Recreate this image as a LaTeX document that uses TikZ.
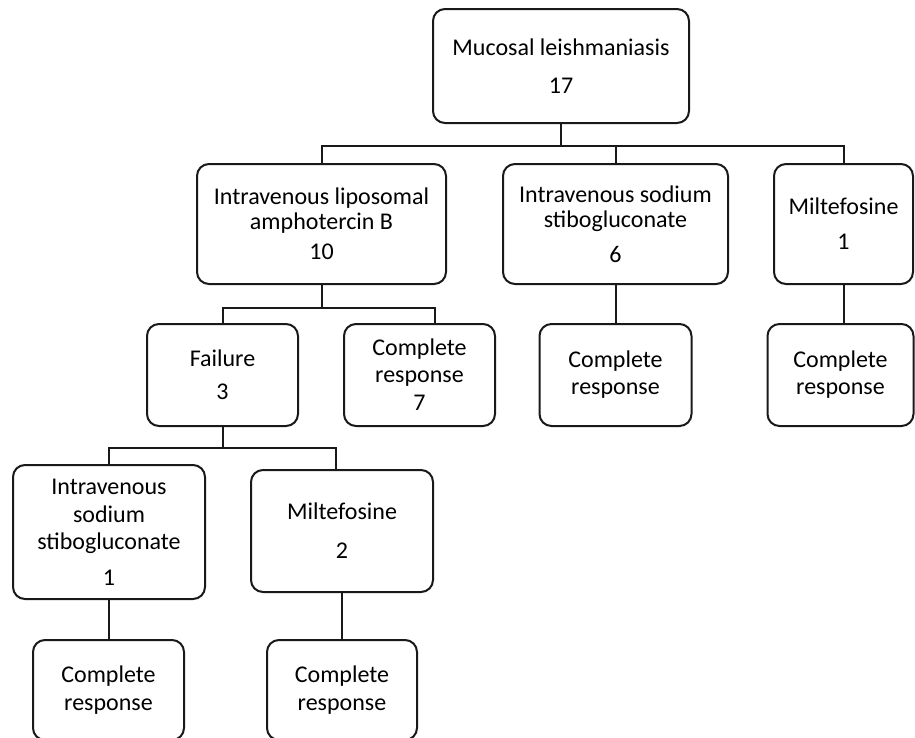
\documentclass[tikz,border=0pt]{standalone}
\usepackage{fontspec}
\setmainfont{Carlito}
\usepackage{tikz}
\colorlet{boxline}{black!90}

\begin{document}
\begin{tikzpicture}[x=1pt, y=-1pt,
  box/.style={draw=boxline, line width=2pt, rounded corners=12pt, align=center,
    inner sep=0pt, font=\fontsize{24}{26}\selectfont},
  link/.style={draw=boxline, line width=2pt}]
\useasboundingbox (0,0) rectangle (915,737);
\begin{scope}
\clip (0,0) rectangle (915,737);
\node[box, minimum width=256, minimum height=114] (muc) at (561,66) {Mucosal leishmaniasis\\[12pt]17};
\node[box, minimum width=249, minimum height=120] (amb) at (321.5,224) {Intravenous liposomal\\[-1pt]amphotercin B\\[4pt]10};
\node[box, minimum width=225, minimum height=120] (ssg) at (615.5,224) {Intravenous sodium\\[-1pt]stibogluconate\\[9pt]6};
\node[box, minimum width=139, minimum height=120] (mil) at (843.5,224) {Miltefosine\\[9pt]1};
\node[box, minimum width=151, minimum height=102] (fail) at (222.5,375) {Failure\\[7pt]3};
\node[box, minimum width=151, minimum height=102] (cr7) at (419.5,375) {Complete\\[1pt]response\\[2pt]7};
\node[box, minimum width=152, minimum height=102] (crssg) at (615.5,375) {Complete\\[1pt]response};
\node[box, minimum width=146, minimum height=102] (crmil) at (840.5,375) {Complete\\[1pt]response};
\node[box, minimum width=192, minimum height=134] (ivs) at (109,532) {Intravenous\\[2pt]sodium\\[1pt]stibogluconate\\[10pt]1};
\node[box, minimum width=182, minimum height=122] (mil2) at (342,531) {Miltefosine\\[13pt]2};
\node[box, minimum width=151, minimum height=100] (crivs) at (108.5,690) {Complete\\[2pt]response};
\node[box, minimum width=150, minimum height=100] (crmil2) at (342,690) {Complete\\[2pt]response};
\end{scope}
\coordinate (busA) at (muc.south |- 0,146);
\coordinate (busB) at (amb.south |- 0,308);
\coordinate (busC) at (fail.south |- 0,448);
\draw[link] (muc.south) -- (busA);
\draw[link] (amb.north) |- (busA) -| (mil.north);
\draw[link] (ssg.north) -- (ssg.north |- busA);
\draw[link] (amb.south) -- (busB);
\draw[link] (fail.north) |- (busB) -| ([xshift=15.5pt]cr7.north);
\draw[link] (fail.south) -- (busC);
\draw[link] (ivs.north) |- (busC) -| ([xshift=-6pt]mil2.north);
\draw[link] (ssg.south) -- (crssg.north);
\draw[link] (mil.south) -- (mil.south |- crmil.north);
\draw[link] (ivs.south) -- (ivs.south |- crivs.north);
\draw[link] (mil2.south) -- (crmil2.north);
\end{tikzpicture}
\end{document}
